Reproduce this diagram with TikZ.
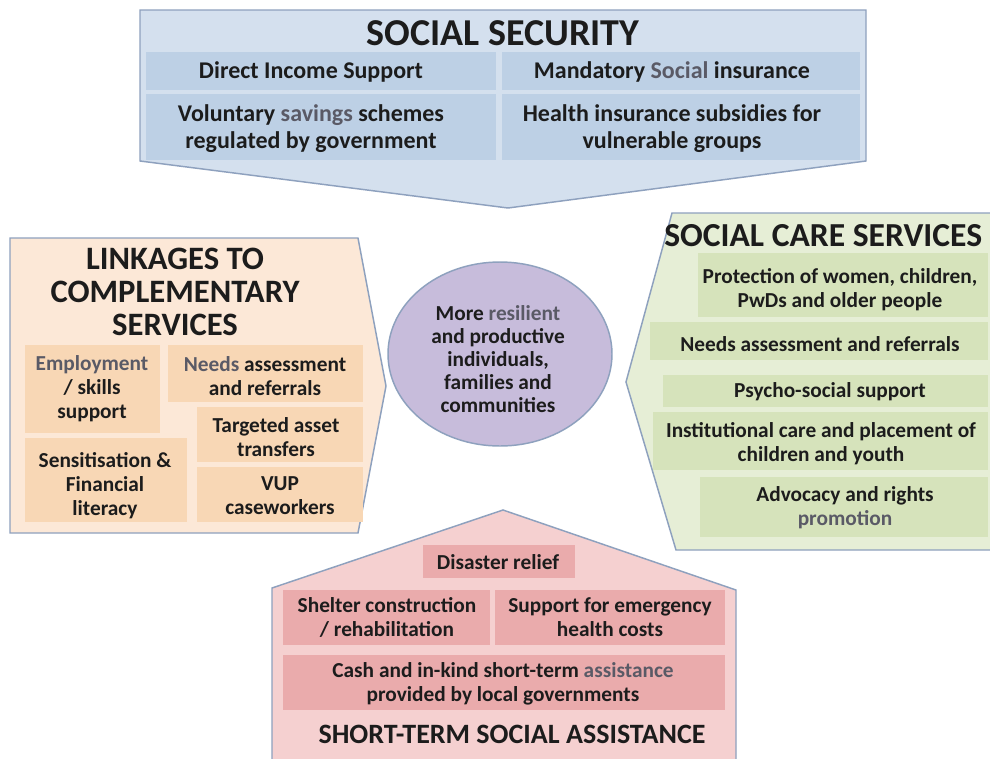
\documentclass[tikz,border=0pt]{standalone}
\usepackage{fontspec}
\setmainfont{Carlito}
\usetikzlibrary{shapes.geometric,fit}

\definecolor{ink}{HTML}{1C1C1C}
\definecolor{soft}{HTML}{5A5A66}
\definecolor{edge}{HTML}{8EA1BE}
\definecolor{blueBg}{HTML}{D4E0EE}
\definecolor{blueCell}{HTML}{BDD0E5}
\definecolor{orangeBg}{HTML}{FCE8D7}
\definecolor{orangeCell}{HTML}{F8D7B5}
\definecolor{greenBg}{HTML}{E6EED6}
\definecolor{greenCell}{HTML}{D6E3BB}
\definecolor{pinkBg}{HTML}{F5D0D0}
\definecolor{pinkCell}{HTML}{EAABAC}
\definecolor{hubFill}{HTML}{C7BCDB}

\tikzset{
  panel/.style={draw=edge, line width=1.1pt, line join=miter},
  cellbox/.style={draw=none, inner sep=0pt},
  celltext/.style={inner sep=0pt, align=center, text=ink,
    font=\bfseries\fontsize{16}{18}\selectfont},
  bigtext/.style={celltext, font=\bfseries\fontsize{18}{20.2}\selectfont},
  heading/.style={inner sep=0pt, align=center, text=ink},
}

\begin{document}
\begin{tikzpicture}[x=0.75pt, y=-0.75pt]
\useasboundingbox (0,0) rectangle (990,758);
\fill[white] (0,0) rectangle (990,758);
\clip (0,0) rectangle (990,758);

% ---------- Social security (top) ----------
\draw[panel, fill=blueBg] (140,10) -- (866,10) -- (866,161) -- (508,208) -- (140,161) -- cycle;
\node[heading, font=\bfseries\fontsize{28.5}{30}\selectfont] (ssT) at (503,33) {SOCIAL SECURITY};
\node[cellbox, fill=blueCell, fit={(146,52)(496,90)}] (ss1) {};
\node[cellbox, fill=blueCell, fit={(502,52)(860,90)}] (ss2) {};
\node[cellbox, fill=blueCell, fit={(146,94)(496,160)}] (ss3) {};
\node[cellbox, fill=blueCell, fit={(502,94)(860,160)}] (ss4) {};
\node[bigtext] (ss1t) at (311,72) {Direct Income Support};
\node[bigtext] (ss2t) at (672,72) {Mandatory {\color{soft}Social} insurance};
\node[bigtext] (ss3t) at (311,129) {Voluntary {\color{soft}savings} schemes\\regulated by government};
\node[bigtext] (ss4t) at (672,129) {Health insurance subsidies for\\vulnerable groups};

% ---------- Linkages to complementary services (left) ----------
\draw[panel, fill=orangeBg] (10,238) -- (358,238) -- (386,386) -- (358,533) -- (10,533) -- cycle;
\node[heading, font=\bfseries\fontsize{24.5}{25}\selectfont] (lkT) at (175,292) {LINKAGES TO\\COMPLEMENTARY\\SERVICES};
\node[cellbox, fill=orangeCell, fit={(25,345)(160,433)}] (lk1) {};
\node[cellbox, fill=orangeCell, fit={(168,345)(363,402)}] (lk2) {};
\node[cellbox, fill=orangeCell, fit={(197,407)(363,462)}] (lk3) {};
\node[cellbox, fill=orangeCell, fit={(25,438)(187,522)}] (lk4) {};
\node[cellbox, fill=orangeCell, fit={(197,467)(363,522)}] (lk5) {};
\node[celltext] (lk1t) at (92,389) {{\color{soft}Employment}\\/ skills\\support};
\node[celltext] (lk2t) at (265,376) {{\color{soft}Needs} assessment\\and referrals};
\node[celltext] (lk3t) at (276,437) {Targeted asset\\transfers};
\node[celltext] (lk4t) at (105,486) {Sensitisation \&\\Financial\\literacy};
\node[celltext] (lk5t) at (280,496) {VUP\\caseworkers};

% ---------- Social care services (right) ----------
\draw[panel, fill=greenBg] (672,213) -- (1000,213) -- (1000,550) -- (676,550) -- (626,382) -- cycle;
\node[heading, anchor=west, font=\bfseries\fontsize{25.2}{26}\selectfont] (scT) at (664,236) {SOCIAL CARE SERVICES};
\node[cellbox, fill=greenCell, fit={(698,253)(988,317)}] (sc1) {};
\node[cellbox, fill=greenCell, fit={(650,322)(988,360)}] (sc2) {};
\node[cellbox, fill=greenCell, fit={(663,375)(988,407)}] (sc3) {};
\node[cellbox, fill=greenCell, fit={(653,412)(988,470)}] (sc4) {};
\node[cellbox, fill=greenCell, fit={(700,477)(988,537)}] (sc5) {};
\node[celltext] (sc1t) at (840,290) {Protection of women, children,\\PwDs and older people};
\node[celltext] (sc2t) at (820,344) {Needs assessment and referrals};
\node[celltext] (sc3t) at (830,392) {Psycho-social support};
\node[celltext] (sc4t) at (821,444) {Institutional care and placement of\\children and youth};
\node[celltext] (sc5t) at (845,508) {Advocacy and rights\\{\color{soft}promotion}};

% ---------- Short-term social assistance (bottom) ----------
\draw[panel, fill=pinkBg] (503,510) -- (736,590) -- (736,780) -- (272,780) -- (272,588) -- cycle;
\node[cellbox, fill=pinkCell, fit={(423,545)(575,578)}] (st1) {};
\node[cellbox, fill=pinkCell, fit={(283,590)(490,645)}] (st2) {};
\node[cellbox, fill=pinkCell, fit={(495,590)(725,645)}] (st3) {};
\node[cellbox, fill=pinkCell, fit={(283,655)(725,710)}] (st4) {};
\node[celltext] (st1t) at (498,562) {Disaster relief};
\node[celltext] (st2t) at (387,617) {Shelter construction\\/ rehabilitation};
\node[celltext] (st3t) at (610,617) {Support for emergency\\health costs};
\node[celltext] (st4t) at (503,684) {Cash and in-kind short-term {\color{soft}assistance}\\provided by local governments};
\node[heading, font=\bfseries\fontsize{21}{22}\selectfont] (stT) at (512,734) {SHORT-TERM SOCIAL ASSISTANCE};

% ---------- Outcome hub (centre) ----------
\node[ellipse, draw=edge, line width=1.1pt, fill=hubFill, inner sep=0pt,
      minimum width=168pt, minimum height=138pt, align=center, text=ink,
      font=\bfseries\fontsize{16}{17.3}\selectfont] (hub) at (500,354) {};
\node[celltext, font=\bfseries\fontsize{16}{17.3}\selectfont] (hubt) at (498,359)
  {More {\color{soft}resilient}\\and productive\\individuals,\\families and\\communities};
\end{tikzpicture}
\end{document}
